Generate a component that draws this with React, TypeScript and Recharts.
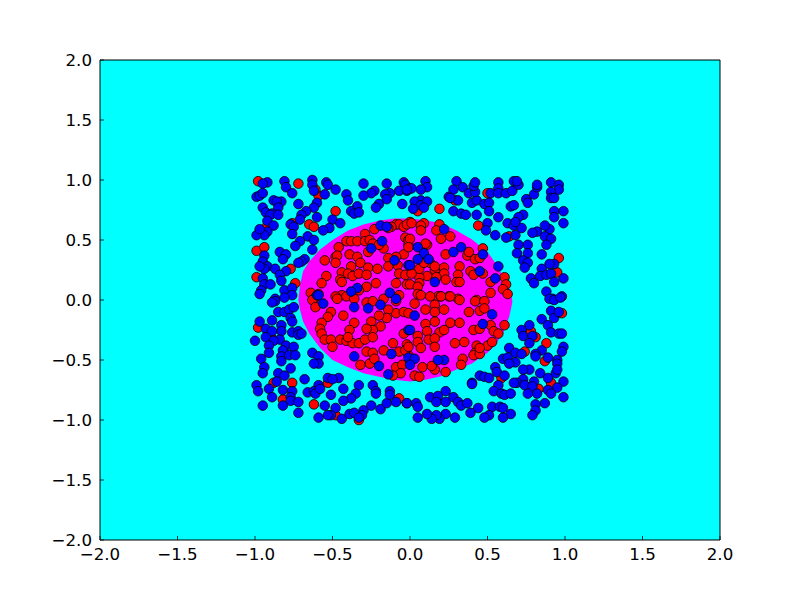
import { ComposedChart, Area, Scatter, XAxis, YAxis, ZAxis, CartesianGrid } from 'recharts';

const ticks = [-2, -1.5, -1, -0.5, 0, 0.5, 1, 1.5, 2];

// decision region outline: x, lower y, upper y
const regionX = [-0.72, -0.71, -0.69, -0.65, -0.58, -0.5, -0.4, -0.3, -0.2, -0.1, 0, 0.1, 0.2, 0.3, 0.4, 0.5, 0.55, 0.6, 0.64, 0.66];
const regionLow = [0, -0.08, -0.18, -0.28, -0.4, -0.5, -0.56, -0.61, -0.64, -0.665, -0.68, -0.665, -0.635, -0.58, -0.53, -0.44, -0.37, -0.28, -0.14, -0.02];
const regionHigh = [0, 0.12, 0.24, 0.32, 0.42, 0.5, 0.58, 0.63, 0.66, 0.68, 0.68, 0.665, 0.64, 0.58, 0.505, 0.4, 0.31, 0.2, 0.1, 0];

const redOutside = [
  [-0.98, 0.99], [-0.72, 0.97], [-0.59, 0.87], [-0.61, 0.92], [-0.48, 0.74], [-0.65, 0.63], [-0.62, 0.61], [-0.92, 0.62],
  [-0.76, 0.64], [-0.99, 0.41], [-0.94, 0.44], [-0.77, 0.26], [-0.99, 0.19], [-0.74, 0.14],
  [0.19, 0.76], [0.44, 0.62], [0.5, 0.89], [0.29, 0.83], [0.64, 0.53], [0.96, 0.35], [0.95, 0.23], [0.05, 0.74],
  [-0.98, -0.23], [-0.88, -0.69], [-0.76, -0.69], [-0.82, -0.83], [-0.62, -0.87], [-0.53, -0.69], [-0.48, -0.96],
  [-0.33, -1.0], [-0.07, -0.82], [-0.89, -0.32],
  [0.88, -0.36], [0.98, -0.11], [0.78, -0.26], [0.81, -0.31], [0.74, -0.43], [0.87, -0.51], [0.59, -0.65], [0.83, -0.74], [0.91, -0.69],
];

const redInside = [
  [-0.23, 0.59], [-0.29, 0.55], [-0.41, 0.49], [-0.38, 0.49], [-0.34, 0.49], [-0.29, 0.49], [-0.46, 0.44], [-0.26, 0.5],
  [-0.24, 0.47], [-0.17, 0.43], [-0.2, 0.46], [-0.55, 0.33], [-0.48, 0.36], [-0.47, 0.37], [-0.39, 0.38], [-0.34, 0.36],
  [-0.27, 0.4], [-0.32, 0.31], [-0.48, 0.31], [-0.38, 0.28], [-0.27, 0.27], [-0.21, 0.26], [-0.44, 0.23], [-0.4, 0.22],
  [-0.37, 0.2], [-0.33, 0.22], [-0.28, 0.21], [-0.54, 0.2], [-0.57, 0.14], [-0.45, 0.17], [-0.44, 0.15], [-0.22, 0.14],
  [-0.28, 0.11], [-0.33, 0.08], [-0.44, 0.04], [-0.64, 0.06], [-0.59, 0.05], [-0.62, 0.01], [-0.48, 0.03], [-0.09, 0.63],
  [-0.07, 0.63], [-0.12, 0.61], [-0.14, 0.6], [-0.04, 0.61], [-0.03, 0.52], [-0.01, 0.46], [-0.04, 0.38], [-0.09, 0.36],
  [-0.08, 0.29], [-0.07, 0.22], [-0.14, 0.35], [-0.03, 0.21], [-0.09, 0.14], [-0.07, 0.04], [-0.02, 0.13], [0, 0.65],
  [-0.02, 0.63], [-0.01, 0.5], [-0.14, 0.28],
  [0.01, 0.64], [0.09, 0.64], [0.07, 0.62], [0.07, 0.58], [0, 0.51], [0.19, 0.63], [0.17, 0.58], [0.2, 0.51], [0.26, 0.53],
  [0.11, 0.46], [0.1, 0.47], [0.23, 0.38], [0.37, 0.37], [0.38, 0.4], [0.42, 0.34], [0.45, 0.35], [0.47, 0.43], [0.32, 0.28],
  [0.39, 0.24], [0.41, 0.21], [0.47, 0.22], [0.31, 0.21], [0.3, 0.15], [0.32, 0.15], [0.22, 0.27], [0.22, 0.22], [0.23, 0.17],
  [0.16, 0.25], [0.17, 0.19], [0.11, 0.2], [0.06, 0.19], [0.06, 0.26], [0.06, 0.14], [0, 0.13], [0.05, 0.11], [0.05, 0.05],
  [0.18, 0.03], [0.2, 0.03], [0.25, 0.03], [0.31, 0.01], [0.43, 0], [0.52, 0.06], [0.61, 0.19], [0.62, 0.13], [0.6, 0.09],
  [0.63, 0.05], [0.52, 0.15], [0.01, 0.22], [0.13, 0.31], [0.16, 0.28], [-0.01, 0.44], [0.09, 0.31],
  [-0.63, 0], [-0.61, -0.06], [-0.47, 0.01], [-0.41, 0.03], [-0.36, 0.01], [-0.28, -0.02], [-0.24, -0.01], [-0.17, 0.01],
  [-0.09, -0.01], [-0.09, -0.11], [-0.04, -0.1], [-0.01, -0.11], [-0.14, -0.08], [-0.15, -0.15], [-0.2, -0.13], [-0.25, -0.18],
  [-0.19, -0.22], [-0.24, -0.25], [-0.28, -0.24], [-0.51, -0.1], [-0.53, -0.14], [-0.57, -0.19], [-0.58, -0.24], [-0.57, -0.28],
  [-0.43, -0.13], [-0.36, -0.19], [-0.39, -0.25], [-0.55, -0.33], [-0.51, -0.33], [-0.5, -0.39], [-0.45, -0.33], [-0.41, -0.34],
  [-0.37, -0.36], [-0.33, -0.36], [-0.29, -0.33], [-0.24, -0.31], [-0.4, -0.31], [-0.04, -0.28], [-0.11, -0.36], [-0.02, -0.37],
  [-0.17, -0.42], [-0.28, -0.43], [-0.24, -0.44], [-0.26, -0.53], [-0.32, -0.54], [-0.23, -0.49], [-0.07, -0.43], [-0.09, -0.56],
  [-0.05, -0.54], [-0.06, -0.61], [-0.11, -0.63], [-0.01, -0.46], [-0.03, -0.42], [0, -0.51],
  [0.07, 0.04], [0.13, 0.03], [0.2, 0.03], [0.26, 0.03], [0.32, 0], [0.42, -0.01], [0.48, -0.01], [0.03, -0.03], [0.1, -0.08],
  [0.16, -0.04], [0.22, -0.08], [0.16, -0.1], [0.38, -0.1], [0.45, -0.09], [0.48, -0.07], [0.26, -0.19], [0.32, -0.19], [0.16, -0.18],
  [0.1, -0.2], [0.11, -0.26], [0.05, -0.3], [0.19, -0.27], [0.22, -0.25], [0.05, -0.35], [0.12, -0.33], [0.16, -0.32], [0.16, -0.39],
  [0.07, -0.4], [-0.01, -0.39], [0.29, -0.36], [0.35, -0.35], [0.43, -0.38], [0.42, -0.44], [0.41, -0.46], [0.45, -0.45], [0.5, -0.38],
  [0.53, -0.35], [0.52, -0.21], [0.54, -0.26], [0.57, -0.28], [0.41, -0.25], [0.45, -0.24], [0.61, -0.21], [0.34, -0.49], [0.33, -0.54],
  [0.23, -0.6], [0.16, -0.58], [0.14, -0.55], [0.08, -0.56], [0.03, -0.63], [0.06, -0.64], [0.45, -0.4],
];

const blueOutside = [
  [-0.92, 0.98], [-0.95, 0.97], [-0.81, 0.99], [-0.8, 0.94], [-0.76, 0.89], [-0.63, 1.0], [-0.63, 0.96], [-0.62, 0.91],
  [-0.54, 0.98], [-0.53, 0.96], [-0.48, 0.92], [-0.55, 0.88], [-0.3, 0.97], [-0.15, 0.97], [-0.04, 0.98], [-0.03, 0.96],
  [-0.07, 0.91], [-0.02, 0.91], [-0.13, 0.89], [-0.16, 0.88], [-0.15, 0.84], [-0.23, 0.91], [-0.25, 0.89], [-0.3, 0.87],
  [-0.41, 0.88], [-0.4, 0.83], [-0.05, 0.8], [-0.2, 0.8], [-0.22, 0.77], [-0.99, 0.86], [-0.97, 0.87], [-0.95, 0.89],
  [-0.72, 0.8], [-0.6, 0.81], [-0.62, 0.77], [-0.83, 0.82], [-0.88, 0.83], [-0.86, 0.82], [-0.85, 0.77], [-0.34, 0.78],
  [-0.38, 0.74], [-0.36, 0.72], [-0.33, 0.73], [-0.95, 0.77], [-0.93, 0.73], [-0.89, 0.72], [-0.9, 0.71], [-0.85, 0.71],
  [-0.67, 0.74], [-0.7, 0.71], [-0.71, 0.67], [-0.6, 0.69], [-0.92, 0.66], [-0.88, 0.62], [-0.92, 0.57], [-0.94, 0.54],
  [-0.99, 0.54], [-0.97, 0.59], [-0.77, 0.63], [-0.75, 0.61], [-0.76, 0.55], [-0.5, 0.67], [-0.45, 0.64], [-0.52, 0.6],
  [-0.56, 0.58], [-0.66, 0.53], [-0.62, 0.5], [-0.71, 0.49], [-0.74, 0.45], [-0.63, 0.42], [-0.84, 0.4], [-0.8, 0.38],
  [-0.82, 0.34], [-0.94, 0.37], [-0.95, 0.32], [-0.68, 0.34], [-0.7, 0.32], [-0.72, 0.31], [-0.92, 0.28], [-0.94, 0.26],
  [-0.97, 0.28], [-0.87, 0.26], [-0.8, 0.24], [-0.84, 0.21], [-0.83, 0.16], [-0.95, 0.18], [-0.94, 0.13], [-0.96, 0.08],
  [-0.97, 0.05], [-0.9, 0.13], [-0.81, 0.08], [-0.76, 0.1], [-0.76, 0.04], [-0.81, 0.02], [-0.87, 0.01],
  [0.3, 0.99], [0.34, 0.94], [0.28, 0.92], [0.25, 0.86], [0.31, 0.83], [0.26, 0.85], [0.28, 0.74], [0.33, 0.72], [0.36, 0.71],
  [0.4, 0.81], [0.43, 0.83], [0.38, 0.89], [0.42, 0.9], [0.41, 0.95], [0.42, 0.98], [0.52, 0.89], [0.57, 0.98], [0.57, 0.93],
  [0.57, 0.89], [0.62, 0.89], [0.66, 0.91], [0.67, 0.99], [0.7, 0.96], [0.69, 0.99], [0.48, 0.8], [0.51, 0.81], [0.51, 0.74],
  [0.43, 0.71], [0.57, 0.69], [0.5, 0.64], [0.49, 0.58], [0.55, 0.54], [0.62, 0.52], [0.63, 0.64], [0.67, 0.62], [0.72, 0.6],
  [0.68, 0.54], [0.65, 0.78], [0.67, 0.79], [0.73, 0.71], [0.7, 0.69], [0.68, 0.65], [0.75, 0.84], [0.8, 0.88], [0.82, 0.94],
  [0.82, 0.96], [0.76, 0.81], [0.91, 0.98], [0.96, 0.96], [0.96, 0.92], [0.91, 0.9], [0.91, 0.85], [0.93, 0.85], [0.93, 0.74],
  [0.99, 0.74], [0.93, 0.69], [0.99, 0.64], [0.9, 0.59], [0.87, 0.62], [0.82, 0.57], [0.79, 0.56], [0.87, 0.53], [0.91, 0.51],
  [0.88, 0.46], [0.76, 0.46], [0.85, 0.38], [0.76, 0.39], [0.7, 0.46], [0.69, 0.39], [0.73, 0.33], [0.76, 0.31], [0.74, 0.27],
  [0.93, 0.3], [0.9, 0.3], [0.85, 0.26], [0.84, 0.2], [0.88, 0.21], [0.91, 0.22], [0.99, 0.18], [0.78, 0.18], [0.8, 0.14],
  [0.93, 0.15], [0.88, 0.07], [0.92, 0.01], [0.98, 0.03], [0, 0.93], [0.1, 0.99], [0.11, 0.94], [0.07, 0.92], [0.07, 0.83],
  [0.03, 0.82], [0.07, 0.79], [0.11, 0.82], [0.02, 0.76], [0.09, 0.77], [0.01, 0.93], [-0.02, 0.92],
  [-0.87, -0.01], [-0.89, -0.02], [-0.85, -0.1], [-0.81, -0.1], [-0.78, -0.08], [-0.75, -0.06], [-0.77, -0.15], [-0.76, -0.18],
  [-0.97, -0.18], [-0.89, -0.17], [-0.83, -0.21], [-0.93, -0.24], [-0.89, -0.26], [-0.83, -0.26], [-0.76, -0.27], [-0.72, -0.26],
  [-0.72, -0.29], [-0.7, -0.28], [-1.0, -0.34], [-0.93, -0.31], [-0.84, -0.33], [-0.88, -0.34], [-0.91, -0.38], [-0.8, -0.38],
  [-0.75, -0.39], [-0.82, -0.42], [-0.91, -0.44], [-0.83, -0.47], [-0.78, -0.46], [-0.74, -0.46], [-0.96, -0.49], [-0.83, -0.51],
  [-0.94, -0.56], [-0.95, -0.61], [-0.63, -0.44], [-0.59, -0.47], [-0.59, -0.53], [-0.62, -0.53], [-0.77, -0.57], [-0.85, -0.61],
  [-0.81, -0.63], [-0.86, -0.68], [-0.68, -0.66], [-0.99, -0.71], [-0.98, -0.76], [-0.91, -0.74], [-0.82, -0.75], [-0.76, -0.76],
  [-0.89, -0.81], [-0.77, -0.81], [-0.77, -0.84], [-0.72, -0.85], [-0.82, -0.88], [-0.95, -0.88], [-0.72, -0.94], [-0.59, -0.71],
  [-0.66, -0.77], [-0.62, -0.76], [-0.61, -0.78], [-0.53, -0.65], [-0.46, -0.65], [-0.5, -0.66], [-0.51, -0.79], [-0.58, -0.74],
  [-0.43, -0.74], [-0.33, -0.71], [-0.35, -0.78], [-0.38, -0.82], [-0.43, -0.84], [-0.55, -0.88], [-0.48, -0.9], [-0.51, -0.96],
  [-0.53, -0.96], [-0.59, -0.98], [-0.44, -0.99], [-0.39, -0.95], [-0.3, -0.92], [-0.31, -0.96], [-0.36, -0.94], [-0.33, -0.98],
  [-0.24, -0.71], [-0.22, -0.76], [-0.22, -0.78], [-0.25, -0.88], [-0.19, -0.91], [-0.15, -0.86], [-0.13, -0.76], [-0.13, -0.79],
  [-0.09, -0.85], [-0.02, -0.86],
  [0.9, 0.01], [0.93, 0], [0.97, 0.02], [0.91, -0.09], [0.93, -0.15], [0.96, -0.1], [0.85, -0.16], [0.89, -0.21], [0.91, -0.27],
  [0.96, -0.28], [0.98, -0.28], [0.77, -0.21], [0.72, -0.25], [0.73, -0.3], [0.79, -0.3], [0.77, -0.36], [0.99, -0.39], [0.98, -0.43],
  [0.85, -0.42], [0.81, -0.45], [0.81, -0.47], [0.89, -0.48], [0.95, -0.5], [0.95, -0.53], [0.94, -0.61], [0.95, -0.58], [0.64, -0.4],
  [0.68, -0.44], [0.72, -0.45], [0.6, -0.49], [0.63, -0.48], [0.68, -0.52], [0.64, -0.53], [0.77, -0.58], [0.73, -0.58], [0.84, -0.61],
  [0.55, -0.56], [0.56, -0.6], [0.45, -0.63], [0.48, -0.64], [0.51, -0.65], [0.61, -0.63], [0.4, -0.69], [0.4, -0.7], [0.73, -0.66],
  [0.69, -0.69], [0.67, -0.69], [0.74, -0.71], [0.8, -0.68], [0.79, -0.72], [0.89, -0.65], [0.99, -0.68], [0.95, -0.73], [0.89, -0.75],
  [0.91, -0.78], [0.57, -0.71], [0.54, -0.76], [0.59, -0.78], [0.61, -0.79], [0.65, -0.78], [0.76, -0.78], [0.82, -0.78], [0.99, -0.81],
  [0.87, -0.86], [0.81, -0.87], [0.81, -0.92], [0.79, -0.96], [0.23, -0.76], [0.13, -0.81], [0.18, -0.8], [0.28, -0.81], [0.17, -0.85],
  [0.23, -0.85], [0.31, -0.85], [0.33, -0.88], [0.37, -0.86], [0.44, -0.9], [0.39, -0.94], [0.53, -0.89], [0.58, -0.89], [0.6, -0.9],
  [0.65, -0.95], [0.6, -0.98], [0.51, -0.96], [0.48, -0.98], [0.29, -0.98], [0.23, -0.95], [0.19, -0.99], [0.17, -0.96], [0.14, -0.99],
  [0.11, -0.95], [0.05, -0.98], [0.04, -0.86], [0.05, -0.89], [-0.02, -0.86],
];

const blueInside = [
  [-0.19, 0.62], [-0.15, 0.61], [-0.18, 0.49], [-0.25, 0.43], [-0.1, 0.33], [-0.01, 0.29], [-0.34, 0.1], [-0.38, 0.07],
  [-0.6, 0.04], [-0.13, 0.06], [-0.09, 0.01], [0.22, 0.59], [0.05, 0.44], [0.09, 0.39], [0.12, 0.34], [0.05, 0.34], [0, 0.29],
  [0.28, 0.4], [0.33, 0.44], [0.47, 0.38], [0.45, 0.24], [0.57, 0.28], [0.55, 0.18], [0.16, 0.15], [-0.59, 0.04], [-0.56, -0.03],
  [-0.36, -0.06], [-0.27, -0.07], [-0.19, -0.04], [-0.01, -0.25], [-0.36, -0.47], [-0.12, -0.45], [-0.2, -0.55], [-0.14, -0.62],
  [0, -0.25], [0.03, -0.13], [0.53, -0.12], [0.47, -0.2], [0.22, -0.5], [0.18, -0.5], [-0.01, -0.48], [0.03, -0.49], [0, -0.54],
];

const regionData = regionX.map((x, i) => ({ x, band: [regionLow[i], regionHigh[i]] }));
const toPoints = (rows: number[][]) => rows.map(([x, y]) => ({ x, y }));
const fmt = (v: number) => v.toFixed(1).replace('-', '\u2212');
const tickStyle = { fontSize: 16.67, fontFamily: '"DejaVu Sans"', fill: '#000' };
const axisLine = { stroke: '#000', strokeWidth: 1 };
const tickLine = { stroke: '#000', strokeWidth: 0.8 };

export default function App() {
  return (
    <div style={{ position: 'absolute', left: 0, top: 0, width: 800, height: 600, background: '#fff' }}>
      <ComposedChart width={800} height={600} data={regionData} margin={{ top: 59, right: 79, bottom: 59, left: 99 }}>
        <CartesianGrid horizontal={false} vertical={false} fill="#00ffff" fillOpacity={1} />
        <XAxis xAxisId={0} dataKey="x" type="number" domain={[-2, 2]} ticks={ticks} tickFormatter={fmt} height={1} interval={0}
          tick={tickStyle} tickSize={-4} tickMargin={12} axisLine={axisLine} tickLine={tickLine} allowDataOverflow />
        <XAxis xAxisId="top" orientation="top" dataKey="x" type="number" domain={[-2, 2]} ticks={ticks} height={1} interval={0}
          tick={false} tickSize={-4} axisLine={axisLine} tickLine={tickLine} allowDataOverflow />
        <YAxis yAxisId={0} type="number" domain={[-2, 2]} ticks={ticks} tickFormatter={fmt} width={1} interval={0}
          tick={tickStyle} tickSize={-4} tickMargin={12} axisLine={axisLine} tickLine={tickLine} allowDataOverflow />
        <YAxis yAxisId="right" orientation="right" type="number" domain={[-2, 2]} ticks={ticks} width={1} interval={0}
          tick={false} tickSize={-4} axisLine={axisLine} tickLine={tickLine} allowDataOverflow />
        <ZAxis range={[72, 72]} />
        <Area dataKey="band" type="linear" stroke="none" fill="#ff00ff" fillOpacity={1} dot={false} activeDot={false} isAnimationActive={false} />
        <Scatter data={toPoints(redOutside)} dataKey="y" fill="#ff0000" stroke="#000" strokeWidth={0.8} isAnimationActive={false} />
        <Scatter data={toPoints(redInside)} dataKey="y" fill="#ff0000" stroke="#000" strokeWidth={0.8} isAnimationActive={false} />
        <Scatter data={toPoints(blueOutside)} dataKey="y" fill="#0000ff" stroke="#000" strokeWidth={0.8} isAnimationActive={false} />
        <Scatter data={toPoints(blueInside)} dataKey="y" fill="#0000ff" stroke="#000" strokeWidth={0.8} isAnimationActive={false} />
      </ComposedChart>
    </div>
  );
}
